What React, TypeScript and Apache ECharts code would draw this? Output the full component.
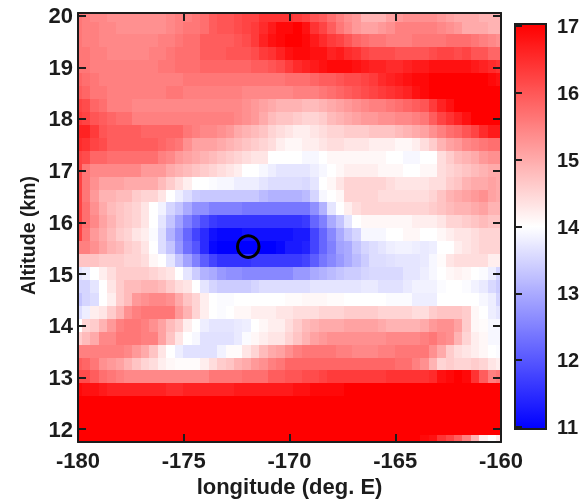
import React, { useEffect, useRef } from "react";
import * as echarts from "echarts";

const longitudes = [-180,-179.6,-179.2,-178.8,-178.4,-178,-177.6,-177.2,-176.8,-176.4,-176,-175.6,-175.2,-174.8,-174.4,-174,-173.6,-173.2,-172.8,-172.4,-172,-171.6,-171.2,-170.8,-170.4,-170,-169.6,-169.2,-168.8,-168.4,-168,-167.6,-167.2,-166.8,-166.4,-166,-165.6,-165.2,-164.8,-164.4,-164,-163.6,-163.2,-162.8,-162.4,-162,-161.6,-161.2,-160.8,-160.4,-160];
const altitudes = [20,19.75,19.5,19.25,19,18.75,18.5,18.25,18,17.75,17.5,17.25,17,16.75,16.5,16.25,16,15.75,15.5,15.25,15,14.75,14.5,14.25,14,13.75,13.5,13.25,13,12.75,12.5,12.25,12,11.75];

const row00 = [15.6,15.5,15.4,15.4,15.3,15.3,15.3,15.3,15.3,15.3,15.3,15.4,15.5,15.5,15.6,15.7,15.9,16.0,16.0,16.1,16.2,16.2,16.4,16.4,16.4,16.4,16.3,16.2,16.0,15.9,15.7,15.5,15.3,15.2,14.9,14.9,14.9,15.1,15.2,15.3,15.3,15.3,15.3,15.2,15.1,15.0,15.0,15.0,14.9,14.9,14.9];
const row01 = [15.6,15.5,15.5,15.4,15.4,15.3,15.3,15.3,15.3,15.3,15.3,15.4,15.5,15.6,15.6,15.7,15.9,16.0,16.0,16.1,16.2,16.3,16.5,16.7,16.9,16.9,17.0,16.8,16.4,16.2,15.9,15.6,15.4,15.2,15.1,15.1,15.2,15.3,15.5,15.5,15.5,15.5,15.5,15.4,15.3,15.2,15.0,15.0,15.0,14.9,14.9];
const row02 = [15.6,15.5,15.5,15.4,15.4,15.4,15.4,15.4,15.4,15.4,15.5,15.5,15.6,15.7,15.7,15.9,15.9,15.9,15.9,16.0,16.1,16.3,16.6,16.8,16.9,17.0,17.0,16.9,16.7,16.5,16.3,16.2,16.0,15.8,15.7,15.6,15.6,15.5,15.5,15.5,15.6,15.6,15.6,15.6,15.7,15.7,15.7,15.6,15.5,15.4,15.3];
const row03 = [15.6,15.6,15.5,15.5,15.4,15.4,15.4,15.4,15.4,15.5,15.5,15.6,15.7,15.7,15.7,15.9,15.9,15.9,16.0,16.0,16.0,16.1,16.3,16.4,16.6,16.8,16.9,16.9,16.8,16.8,16.6,16.7,16.5,16.4,16.2,16.1,16.1,16.1,16.0,16.0,16.0,16.0,16.1,16.2,16.2,16.1,16.2,16.0,16.0,15.8,15.8];
const row04 = [15.6,15.6,15.5,15.5,15.5,15.5,15.5,15.5,15.5,15.5,15.6,15.6,15.7,15.7,15.7,15.8,15.8,15.8,15.8,15.8,15.8,15.9,15.9,16.0,16.1,16.3,16.5,16.6,16.7,16.8,16.9,16.9,16.9,16.8,16.7,16.6,16.6,16.5,16.5,16.6,16.7,16.7,16.8,16.8,16.8,16.8,16.8,16.7,16.6,16.5,16.4];
const row05 = [15.8,15.7,15.6,15.5,15.5,15.5,15.5,15.5,15.5,15.5,15.5,15.5,15.5,15.6,15.6,15.6,15.6,15.6,15.6,15.6,15.6,15.6,15.6,15.6,15.6,15.7,15.7,15.7,15.8,15.9,15.9,16.0,16.1,16.1,16.2,16.3,16.5,16.6,16.7,16.8,16.9,16.9,17.0,17.0,17.0,17.0,17.0,17.0,17.0,16.9,16.8];
const row06 = [15.9,15.8,15.6,15.6,15.5,15.5,15.5,15.5,15.5,15.5,15.5,15.6,15.6,15.5,15.5,15.5,15.5,15.5,15.5,15.5,15.4,15.4,15.4,15.4,15.4,15.4,15.5,15.5,15.5,15.6,15.7,15.8,15.9,16.0,16.1,16.2,16.3,16.4,16.5,16.6,16.8,16.9,17.0,17.0,17.0,17.0,17.0,17.0,17.0,17.0,17.0];
const row07 = [16.2,16.1,15.8,15.7,15.5,15.5,15.5,15.4,15.4,15.4,15.4,15.4,15.4,15.4,15.4,15.4,15.4,15.4,15.4,15.4,15.3,15.2,15.1,15.0,14.9,14.9,14.9,14.8,14.8,14.9,15.0,15.1,15.2,15.3,15.4,15.5,15.5,15.6,15.7,15.8,15.9,16.0,16.3,16.6,16.8,17.0,17.0,17.0,17.0,17.0,17.0];
const row08 = [16.3,16.2,16.0,15.9,15.8,15.7,15.7,15.5,15.5,15.5,15.5,15.5,15.5,15.5,15.5,15.5,15.5,15.5,15.5,15.4,15.3,15.2,15.0,14.8,14.7,14.7,14.6,14.5,14.5,14.6,14.8,14.9,15.0,15.1,15.2,15.2,15.3,15.3,15.4,15.4,15.5,15.6,15.9,16.2,16.4,16.6,16.8,17.0,17.0,17.0,17.0];
const row09 = [16.6,16.6,16.3,16.0,15.9,15.9,15.9,15.9,15.8,15.8,15.8,15.8,15.8,15.6,15.5,15.4,15.4,15.3,15.2,15.0,14.9,14.8,14.7,14.5,14.4,14.3,14.2,14.2,14.3,14.4,14.5,14.5,14.6,14.6,14.6,14.7,14.7,14.7,14.8,14.9,15.0,15.1,15.3,15.5,15.7,15.8,16.0,16.2,16.5,16.7,16.7];
const row10 = [16.5,16.4,16.2,16.1,15.9,15.9,15.9,15.9,15.9,15.9,15.8,15.7,15.6,15.3,15.1,15.1,15.1,15.0,14.9,14.8,14.7,14.6,14.5,14.4,14.2,14.1,14.1,14.2,14.2,14.3,14.4,14.4,14.3,14.3,14.3,14.2,14.2,14.2,14.1,14.1,14.2,14.4,14.6,14.9,15.1,15.2,15.4,15.5,15.6,15.7,15.7];
const row11 = [16.2,16.1,15.8,15.8,15.7,15.7,15.7,15.7,15.7,15.7,15.5,15.4,15.2,15.1,15.0,14.9,14.8,14.7,14.6,14.5,14.4,14.3,14.3,14.0,14.0,14.0,14.0,13.9,13.9,14.0,14.1,14.1,14.1,14.1,14.1,14.1,14.1,14.0,14.0,13.9,13.9,14.0,14.0,14.4,14.6,14.8,14.9,15.0,15.2,15.3,15.3];
const row12 = [16.2,15.6,15.4,15.4,15.4,15.4,15.4,15.4,15.2,15.2,15.2,15.0,14.9,14.8,14.7,14.6,14.5,14.4,14.3,14.2,14.0,14.0,13.9,13.8,13.7,13.7,13.7,13.7,13.8,13.9,14.0,14.1,14.2,14.2,14.2,14.2,14.1,14.1,14.1,14.0,14.0,14.1,14.1,14.4,14.5,14.6,14.7,14.8,14.9,15.0,15.0];
const row13 = [16.2,15.6,15.3,15.1,15.1,15.1,15.0,15.0,15.0,15.0,14.8,14.6,14.4,14.2,14.0,14.0,13.95,13.9,13.9,13.8,13.8,13.8,13.7,13.6,13.6,13.6,13.6,13.55,13.7,14.0,14.1,14.3,14.5,14.5,14.5,14.5,14.5,14.4,14.3,14.3,14.3,14.3,14.4,14.4,14.6,14.7,14.9,15.0,15.0,15.1,15.0];
const row14 = [16.2,15.6,15.2,14.9,14.9,14.8,14.8,14.6,14.5,14.5,14.3,14.0,13.8,13.6,13.4,13.35,13.35,13.35,13.35,13.35,13.35,13.35,13.2,13.1,13.1,13.1,13.1,13.2,13.5,13.9,14.0,14.1,14.5,14.5,14.5,14.5,14.4,14.4,14.4,14.4,14.4,14.4,14.5,14.7,14.9,15.0,15.1,15.2,15.3,15.1,15.0];
const row15 = [16.2,15.7,15.3,15.0,14.8,14.7,14.6,14.5,14.3,14.0,13.85,13.5,13.3,13.0,12.7,12.7,12.5,12.5,12.5,12.5,12.4,12.4,12.4,12.4,12.4,12.4,12.4,12.4,12.7,13.1,13.7,14.0,14.2,14.4,14.5,14.5,14.5,14.5,14.5,14.5,14.5,14.5,14.6,14.7,14.8,14.9,14.9,15.0,15.1,14.9,14.9];
const row16 = [16.2,15.7,15.4,15.1,14.9,14.7,14.6,14.5,14.3,14.0,13.7,13.3,12.9,12.5,12.2,11.9,11.7,11.6,11.6,11.6,11.6,11.6,11.6,11.6,11.6,11.6,11.6,11.7,12.2,12.5,13.0,13.3,13.7,14.0,14.1,14.1,14.1,14.1,14.1,14.1,14.2,14.2,14.2,14.3,14.5,14.5,14.6,14.7,14.8,14.7,14.7];
const row17 = [16.2,15.6,15.2,15.0,14.8,14.6,14.5,14.3,14.2,13.95,13.6,13.1,12.7,12.2,11.8,11.5,11.2,11.1,11.1,11.1,11.2,11.2,11.2,11.2,11.2,11.2,11.3,11.3,11.8,12.2,12.6,13.0,13.3,13.5,13.9,13.9,13.9,14.0,14.0,14.1,14.1,14.0,14.0,14.1,14.2,14.3,14.3,14.4,14.5,14.5,14.5];
const row18 = [15.5,15.5,15.3,15.1,14.9,14.8,14.6,14.5,14.3,14.0,13.6,13.3,12.8,12.3,12.0,11.5,11.1,11.0,11.0,11.0,11.0,11.0,11.0,11.0,11.1,11.3,11.3,11.4,11.8,12.2,12.5,12.9,13.0,13.3,13.5,13.6,13.7,13.8,13.85,13.85,13.8,13.75,13.8,14.0,14.0,14.2,14.3,14.4,14.5,14.5,14.5];
const row19 = [14.7,14.7,14.7,14.6,14.6,14.6,14.5,14.5,14.4,14.1,14.0,13.7,13.3,12.9,12.5,12.1,11.8,11.6,11.6,11.6,11.6,11.7,11.7,11.7,11.7,11.7,11.7,11.8,12.1,12.4,12.6,12.8,13.0,13.2,13.4,13.6,13.6,13.65,13.7,13.7,13.7,13.75,13.9,14.05,14.3,14.4,14.4,14.4,14.4,14.2,14.2];
const row20 = [13.7,13.8,14.0,14.2,14.4,14.6,14.6,14.6,14.6,14.5,14.4,14.3,14.0,13.7,13.4,13.1,13.0,12.8,12.7,12.7,12.6,12.6,12.6,12.6,12.6,12.6,12.8,12.8,13.0,13.1,13.2,13.3,13.4,13.4,13.5,13.55,13.55,13.55,13.55,13.7,13.7,13.8,13.9,14.0,14.1,14.15,14.1,14.0,13.95,13.8,13.5];
const row21 = [13.5,13.5,13.7,14.0,14.3,14.6,14.8,14.8,14.9,14.9,14.8,14.6,14.4,14.3,14.0,13.7,13.5,13.4,13.4,13.4,13.4,13.5,13.6,13.6,13.6,13.6,13.6,13.6,13.7,13.7,13.7,13.7,13.7,13.7,13.75,13.75,13.65,13.65,13.65,13.75,13.85,13.85,13.85,13.95,14.0,14.0,13.95,13.85,13.75,13.55,13.4];
const row22 = [13.3,13.5,13.6,14.0,14.2,14.6,14.8,15.2,15.3,15.4,15.4,15.3,15.0,14.7,14.5,14.2,14.0,13.95,13.95,14.0,14.0,14.0,14.0,14.0,14.0,14.05,14.05,14.1,14.1,14.1,14.05,14.05,14.0,14.0,14.0,14.0,14.0,13.95,13.95,13.95,13.8,13.8,13.8,14.0,14.0,14.0,14.0,14.0,13.9,13.8,13.5];
const row23 = [13.6,13.8,14.2,14.3,14.6,14.9,15.3,15.5,15.6,15.6,15.6,15.6,15.2,14.9,14.5,14.2,14.0,13.95,14.0,14.1,14.1,14.2,14.2,14.2,14.3,14.3,14.4,14.4,14.4,14.5,14.5,14.5,14.6,14.6,14.6,14.6,14.5,14.5,14.5,14.5,14.4,14.4,14.6,14.7,14.7,14.7,14.6,14.1,14.0,13.8,13.7];
const row24 = [14.0,14.5,14.6,14.9,15.2,15.5,15.6,15.6,15.5,15.3,15.1,14.8,14.6,14.2,14.0,13.8,13.7,13.7,13.7,13.75,13.8,14.0,14.1,14.2,14.2,14.4,14.6,14.8,14.9,15.0,15.0,15.0,15.1,15.1,15.1,15.1,15.0,14.9,14.9,14.9,14.9,15.0,15.2,15.3,15.3,15.1,14.6,14.1,14.05,13.9,13.9];
const row25 = [14.6,14.8,15.0,15.4,15.4,15.6,15.6,15.6,15.5,15.5,15.1,14.7,14.3,14.0,13.9,13.65,13.65,13.65,13.65,13.75,13.95,14.1,14.2,14.3,14.3,14.5,14.7,14.9,15.1,15.2,15.3,15.3,15.3,15.3,15.3,15.3,15.3,15.4,15.4,15.4,15.4,15.5,15.6,15.4,15.3,14.9,14.5,14.2,14.1,13.9,13.9];
const row26 = [15.5,15.5,15.5,15.5,15.5,15.5,15.4,15.2,15.0,14.7,14.3,14.0,13.8,13.65,13.65,13.65,13.65,13.85,14.05,14.05,14.3,14.5,14.8,15.0,15.1,15.3,15.5,15.6,15.6,15.6,15.6,15.5,15.5,15.4,15.4,15.4,15.5,15.5,15.6,15.6,15.6,15.6,15.3,15.0,14.6,14.4,14.3,14.2,14.1,14.0,13.95];
const row27 = [15.9,15.8,15.6,15.3,15.2,15.1,14.9,14.7,14.5,14.4,14.2,14.1,14.05,14.05,14.05,14.2,14.4,14.6,14.7,14.9,15.0,15.2,15.3,15.5,15.6,15.8,15.8,15.8,15.8,15.8,15.8,15.8,15.8,15.8,15.8,15.8,15.8,15.8,15.7,15.7,15.5,15.3,14.9,14.5,14.6,14.5,14.5,14.6,14.5,14.3,14.2];
const row28 = [16.1,16.1,15.9,15.7,15.6,15.5,15.4,15.4,15.4,15.4,15.4,15.4,15.4,15.4,15.4,15.4,15.6,15.6,15.6,15.6,15.7,15.7,15.7,15.9,15.9,16.0,16.0,16.1,16.1,16.2,16.3,16.3,16.3,16.3,16.3,16.3,16.3,16.4,16.4,16.4,16.4,16.4,16.5,16.8,16.9,17.0,16.9,16.4,15.9,15.5,15.6];
const row29 = [16.9,16.8,16.8,16.7,16.6,16.6,16.6,16.6,16.6,16.6,16.6,16.5,16.5,16.6,16.6,16.6,16.6,16.6,16.6,16.7,16.7,16.7,16.7,16.7,16.7,16.7,16.8,16.8,16.9,16.9,16.9,16.9,17,17,17,17,17,17,17,17,17,17,17,17,17,17,17,17,17,17,17];
const row30 = [17,17,17,17,17,17,17,17,17,17,17,17,17,17,17,17,17,17,17,17,17,17,17,17,17,17,17,17,17,17,17,17,17,17,17,17,17,17,17,17,17,17,17,17,17,17,17,17,17,17,17];
const row31 = [17,17,17,17,17,17,17,17,17,17,17,17,17,17,17,17,17,17,17,17,17,17,17,17,17,17,17,17,17,17,17,17,17,17,17,17,17,17,17,17,17,17,17,17,17,17,17,17,17,17,17];
const row32 = [17,17,17,17,17,17,17,17,17,17,17,17,17,17,17,17,17,17,17,17,17,17,17,17,17,17,17,17,17,17,17,17,17,17,17,17,17,17,17,17,17,17,17,17,17,17,17,17,17,17,17];
const row33 = [17,17,17,17,17,17,17,17,17,17,17,17,17,17,17,17,17,17,17,17,17,17,17,17,17,17,17,17,17,17,17,17,17,17,17,17,17,17,17,17,17,16.9,16.8,16.4,16.2,15.9,15.5,14.9,14.2,14.0,14.2];
const rows = [row00,row01,row02,row03,row04,row05,row06,row07,row08,row09,row10,row11,row12,row13,row14,row15,row16,row17,row18,row19,row20,row21,row22,row23,row24,row25,row26,row27,row28,row29,row30,row31,row32,row33];

const xTicks = [-180, -175, -170, -165, -160];
const yTicks = [12, 13, 14, 15, 16, 17, 18, 19, 20];
const barTicks = [11, 12, 13, 14, 15, 16, 17];
const markerPoint = [-171.95, 15.53];

const INK = "#1c1c1c";
const FONT = "'Liberation Sans', Arial, sans-serif";
const labelStyle = { fontFamily: FONT, fontWeight: "bold" as const, fontSize: 22, color: INK };

function renderCell(params: any, api: any) {
  const lon = api.value(0);
  const alt = api.value(1);
  const a = api.coord([lon - 0.2, alt + 0.125]);
  const b = api.coord([lon + 0.2, alt - 0.125]);
  const x = Math.floor(a[0]);
  const y = Math.floor(a[1]);
  const cs = params.coordSys;
  const shape = echarts.graphic.clipRectByRect(
    { x, y, width: Math.ceil(b[0]) - x, height: Math.ceil(b[1]) - y },
    { x: cs.x, y: cs.y, width: cs.width, height: cs.height }
  );
  return shape ? { type: "rect", shape, style: { fill: api.visual("color") } } : null;
}

export default function App() {
  const ref = useRef<HTMLDivElement>(null);
  useEffect(() => {
    const chart = echarts.init(ref.current!, null, { renderer: "svg" });
    const cells: number[][] = [];
    rows.forEach((row, r) => row.forEach((v, c) => cells.push([longitudes[c], altitudes[r], v])));
    const frameLine = { show: true, onZero: false, lineStyle: { color: INK, width: 2 } };
    const inTick = { show: true, inside: true, length: 8, lineStyle: { color: INK, width: 2 } };
    chart.setOption({
      animation: false,
      backgroundColor: "#ffffff",
      grid: [
        { left: 78, right: 79, top: 13, bottom: 59, outerBoundsMode: "none" },
        { left: 515, right: 34, top: 24, bottom: 72, outerBoundsMode: "none" },
      ],
      xAxis: [
        {
          type: "value", gridIndex: 0, position: "bottom", min: -180, max: -160,
          splitLine: { show: false }, axisLine: frameLine,
          axisTick: { ...inTick, customValues: xTicks },
          axisLabel: { ...labelStyle, margin: 7, customValues: xTicks },
          name: "longitude (deg. E)", nameLocation: "middle", nameGap: 28,
          nameTextStyle: { ...labelStyle },
          z: 5,
        },
        {
          type: "value", gridIndex: 0, position: "top", min: -180, max: -160,
          splitLine: { show: false }, axisLine: frameLine,
          axisTick: { ...inTick, customValues: xTicks },
          axisLabel: { show: false }, z: 5,
        },
        { type: "value", gridIndex: 1, min: 0, max: 1, show: false },
      ],
      yAxis: [
        {
          type: "value", gridIndex: 0, position: "left", min: 11.75, max: 20.05,
          splitLine: { show: false }, axisLine: frameLine,
          axisTick: { ...inTick, customValues: yTicks },
          axisLabel: { ...labelStyle, margin: 5, customValues: yTicks },
          name: "Altitude (km)", nameLocation: "middle", nameGap: 37,
          nameRotate: 90,
          nameTextStyle: { ...labelStyle, fontSize: 19.5, padding: [0, 0, 0, -16] },
          z: 5,
        },
        {
          type: "value", gridIndex: 0, position: "right", min: 11.75, max: 20.05,
          splitLine: { show: false }, axisLine: frameLine,
          axisTick: { ...inTick, customValues: yTicks },
          axisLabel: { show: false }, z: 5,
        },
        {
          type: "value", gridIndex: 1, position: "right", min: 10.97, max: 17.03,
          splitLine: { show: false }, axisLine: { show: false },
          axisTick: { show: true, inside: false, length: 7, lineStyle: { color: INK, width: 2 }, customValues: barTicks },
          axisLabel: { ...labelStyle, fontSize: 20, margin: 11, customValues: barTicks },
          z: 5,
        },
      ],
      visualMap: {
        type: "continuous", show: true, seriesIndex: 0, dimension: 2, min: 11, max: 17,
        inRange: { color: ["#0000ff", "#ffffff", "#ff0000"] },
        calculable: false, hoverLink: false, orient: "vertical",
        left: 515, top: 24, itemWidth: 31, itemHeight: 405, padding: 0, z: 3,
      },
      graphic: [
        {
          type: "rect", z: 20, shape: { x: 515, y: 24, width: 31, height: 405 },
          style: { fill: "none", stroke: INK, lineWidth: 2 },
        },
      ],
      series: [
        {
          type: "custom", xAxisIndex: 0, yAxisIndex: 0, renderItem: renderCell,
          encode: { x: 0, y: 1 }, data: cells, clip: true, silent: true, progressive: 0, z: 2,
        },
        {
          type: "scatter", xAxisIndex: 0, yAxisIndex: 0, data: [markerPoint], symbol: "circle",
          symbolSize: 21.5, itemStyle: { color: "transparent", borderColor: "#000000", borderWidth: 3, opacity: 1 },
          silent: true, z: 4,
        },
      ],
    });
    return () => chart.dispose();
  }, []);
  return <div ref={ref} style={{ position: "fixed", left: 0, top: 0, width: 580, height: 501, filter: "blur(0.6px)" }} />;
}
